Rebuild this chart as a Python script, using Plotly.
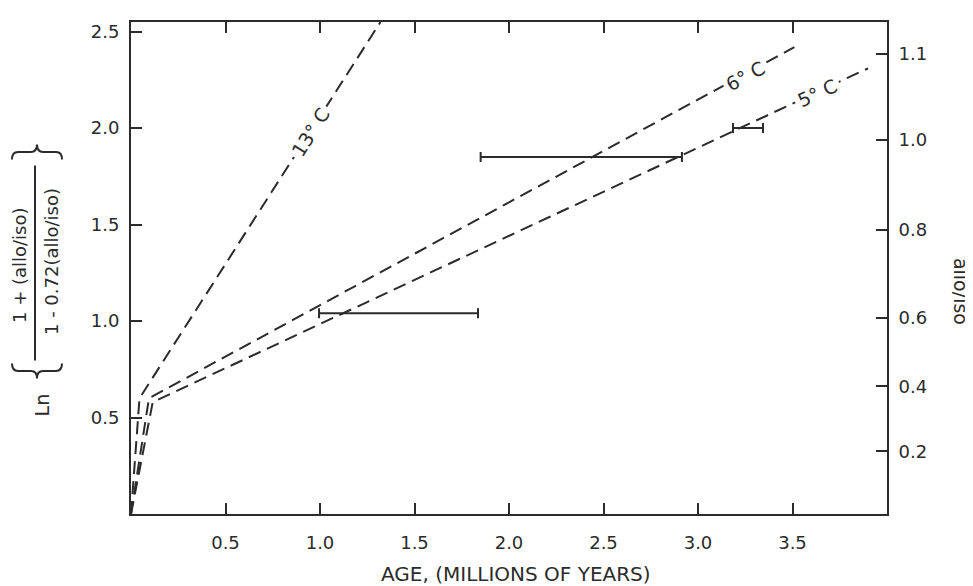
import plotly.graph_objects as go

# ---------------- data ----------------
age_13c = [0.0, 0.045, 1.32]
ln_13c = [0.0, 0.60, 2.55]

age_6c = [0.0, 0.095, 3.51]
ln_6c = [0.0, 0.60, 2.42]

age_5c = [0.0, 0.115, 3.90]
ln_5c = [0.0, 0.58, 2.31]

bar_age_min = [0.995, 1.85, 3.185]
bar_age_max = [1.836, 2.915, 3.344]
bar_ln = [1.04, 1.85, 2.00]

x_ticks = [0.5, 1.0, 1.5, 2.0, 2.5, 3.0, 3.5]
x_labels = ["0.5", "1.0", "1.5", "2.0", "2.5", "3.0", "3.5"]
y_ticks = [0.5, 1.0, 1.5, 2.0, 2.5]
y_labels = ["0.5", "1.0", "1.5", "2.0", "2.5"]
ratio_labels = ["0.2", "0.4", "0.6", "0.8", "1.0", "1.1"]
ratio_pos = [0.325, 0.661, 1.017, 1.471, 1.941, 2.385]

# ---------------- styling ----------------
INK = "#2b2b2b"
FONT = "DejaVu Sans"
OFF = 8                       # default page margin of the html body
W, H = 973 - OFF, 586 - OFF
L_AX, R_AX, T_AX, B_AX = 131, 887, 20, 514   # plot frame in window pixels
ML, MT = L_AX - OFF, T_AX - OFF
MR, MB = (W + OFF) - R_AX, (H + OFF) - B_AX
PW, PH = R_AX - L_AX, B_AX - T_AX


def px(xp):
    return (xp - L_AX) / PW


def py(yp):
    return (B_AX - yp) / PH


dash = "13px,7px"
fig = go.Figure()
for xs, ys in [(age_13c, ln_13c), (age_6c, ln_6c), (age_5c, ln_5c)]:
    fig.add_trace(go.Scatter(x=xs, y=ys, mode="lines",
                             line=dict(color=INK, width=2, dash=dash),
                             hoverinfo="skip", showlegend=False))

centers = [(a + b) / 2 for a, b in zip(bar_age_min, bar_age_max)]
halves = [(b - a) / 2 for a, b in zip(bar_age_min, bar_age_max)]
fig.add_trace(go.Scatter(x=centers, y=bar_ln, mode="markers",
                         marker=dict(size=2, color="rgba(0,0,0,0)"),
                         error_x=dict(type="data", array=halves, symmetric=True,
                                      color=INK, thickness=2, width=5),
                         hoverinfo="skip", showlegend=False))

# dummy trace to anchor the right-hand axis
fig.add_trace(go.Scatter(x=[None], y=[None], yaxis="y2", mode="lines",
                         hoverinfo="skip", showlegend=False))

axis_common = dict(showgrid=False, zeroline=False, showline=True, linewidth=2,
                   linecolor=INK, ticks="inside", ticklen=11, tickwidth=2,
                   tickcolor=INK, tickfont=dict(family=FONT, size=18, color=INK))

fig.update_layout(
    width=W, height=H, autosize=False,
    margin=dict(l=ML, r=MR, t=MT, b=MB, pad=0),
    paper_bgcolor="white", plot_bgcolor="white",
    xaxis=dict(range=[0, 4.0], tickvals=x_ticks, ticktext=x_labels,
               mirror="ticks", ticklabelstandoff=11, **axis_common),
    yaxis=dict(range=[0, 2.55], tickvals=y_ticks, ticktext=y_labels,
               ticklabelstandoff=6, **axis_common),
    yaxis2=dict(range=[0, 2.55], tickvals=ratio_pos, ticktext=ratio_labels,
                overlaying="y", side="right", ticklabelstandoff=6, **axis_common),
)

# curve labels along the lines
for txt, x, y, ang in [("13° C", 0.95, 1.98, -57.5),
                       ("6° C", 3.25, 2.27, -28.5),
                       ("5° C", 3.63, 2.18, -25.0)]:
    fig.add_annotation(x=x, y=y, text=txt, showarrow=False, textangle=ang,
                       font=dict(family=FONT, size=19, color=INK),
                       bgcolor="white", borderpad=3)

# x-axis title
fig.add_annotation(xref="paper", yref="paper", x=px(516), y=py(574),
                   text="AGE, (MILLIONS OF YEARS)",
                   showarrow=False, font=dict(family=FONT, size=20, color=INK),
                   xanchor="center", yanchor="middle")

# right axis title
fig.add_annotation(xref="paper", yref="paper", x=px(961), y=py(290), text="allo/iso",
                   showarrow=False, textangle=90,
                   font=dict(family=FONT, size=19, color=INK),
                   xanchor="center", yanchor="middle")

# left axis title: Ln { (1 + (allo/iso)) / (1 - 0.72(allo/iso)) }
fig.add_annotation(xref="paper", yref="paper", x=px(42), y=py(405), text="Ln",
                   showarrow=False, textangle=-90,
                   font=dict(family=FONT, size=19, color=INK),
                   xanchor="center", yanchor="middle")
fig.add_annotation(xref="paper", yref="paper", x=px(19), y=py(264), text="1 + (allo/iso)",
                   showarrow=False, textangle=-90,
                   font=dict(family=FONT, size=18, color=INK),
                   xanchor="center", yanchor="middle")
fig.add_annotation(xref="paper", yref="paper", x=px(51), y=py(261), text="1 - 0.72(allo/iso)",
                   showarrow=False, textangle=-90,
                   font=dict(family=FONT, size=18, color=INK),
                   xanchor="center", yanchor="middle")
fig.add_shape(type="line", xref="paper", yref="paper",
              x0=px(35), x1=px(35), y0=py(164), y1=py(360),
              line=dict(color=INK, width=2))


def brace(x0, x1, yend, ytip):
    xc = (x0 + x1) / 2
    ym = (yend + ytip) / 2
    pts = [
        ("M", [(x0, yend)]),
        ("Q", [(x0, ym), (x0 + 6, ym)]),
        ("L", [(xc - 6, ym)]),
        ("Q", [(xc, ym), (xc, ytip)]),
        ("Q", [(xc, ym), (xc + 6, ym)]),
        ("L", [(x1 - 6, ym)]),
        ("Q", [(x1, ym), (x1, yend)]),
    ]
    s = ""
    for cmd, ps in pts:
        s += cmd + " " + " ".join(f"{px(a):.5f},{py(b):.5f}" for a, b in ps) + " "
    return s.strip()


fig.add_shape(type="path", xref="paper", yref="paper", path=brace(12, 62, 363, 378),
              line=dict(color=INK, width=2))
fig.add_shape(type="path", xref="paper", yref="paper", path=brace(12, 62, 158, 143),
              line=dict(color=INK, width=2))

fig.write_html("out.html")
